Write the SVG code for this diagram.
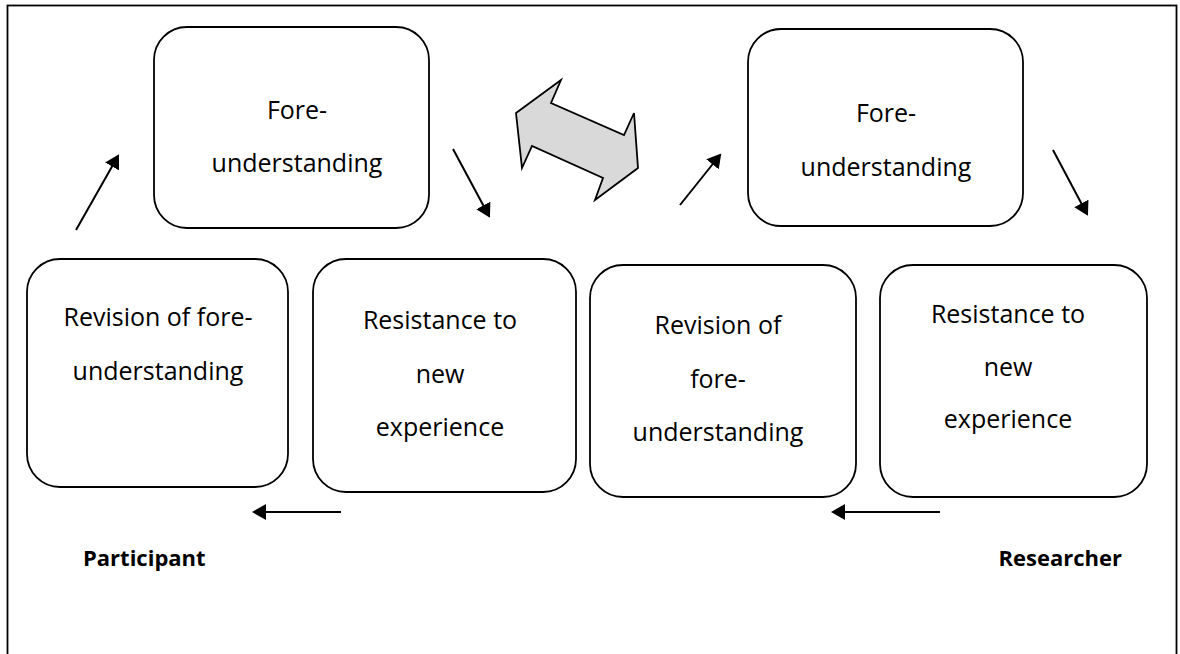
<svg xmlns="http://www.w3.org/2000/svg" width="1180" height="654" viewBox="0 0 1180 654">
<style>
.box{fill:#fff;stroke:#000;stroke-width:1.8}
.t{font-family:"Open Sans","Liberation Sans",sans-serif;font-size:25px;fill:#000;text-anchor:middle}
.b{font-family:"Open Sans","Liberation Sans",sans-serif;font-size:22px;font-weight:bold;fill:#000}
.c{stroke:#000;stroke-width:2;fill:none;marker-end:url(#ah)}
</style>
<defs>
<marker id="ah" markerWidth="8" markerHeight="8" refX="6" refY="4" orient="auto" markerUnits="strokeWidth">
<path d="M0,0 L7,4 L0,8 Z" fill="#000"/>
</marker>
</defs>
<rect x="0" y="0" width="1180" height="654" fill="#fff"/>
<rect x="7.5" y="5.5" width="1169" height="700" fill="none" stroke="#000" stroke-width="1.8"/>

<g id="fore-left">
<rect class="box" x="154" y="27" width="275" height="201" rx="33"/>
<text class="t" x="297" y="119">Fore-</text>
<text class="t" x="297" y="172">understanding</text>
</g>
<g id="fore-right">
<rect class="box" x="748" y="29" width="275" height="197" rx="33"/>
<text class="t" x="886" y="122">Fore-</text>
<text class="t" x="886" y="176">understanding</text>
</g>
<g id="revision-left">
<rect class="box" x="27" y="259" width="261" height="228" rx="33"/>
<text class="t" x="158" y="326">Revision of fore-</text>
<text class="t" x="158" y="380">understanding</text>
</g>
<g id="resistance-left">
<rect class="box" x="313" y="259" width="263" height="233" rx="33"/>
<text class="t" x="440" y="329">Resistance to</text>
<text class="t" x="440" y="383">new</text>
<text class="t" x="440" y="436">experience</text>
</g>
<g id="revision-right">
<rect class="box" x="590" y="265" width="266" height="232" rx="33"/>
<text class="t" x="718" y="334">Revision of</text>
<text class="t" x="718" y="388">fore-</text>
<text class="t" x="718" y="441">understanding</text>
</g>
<g id="resistance-right">
<rect class="box" x="880" y="265" width="267" height="232" rx="33"/>
<text class="t" x="1008" y="323">Resistance to</text>
<text class="t" x="1008" y="376">new</text>
<text class="t" x="1008" y="428">experience</text>
</g>
<g id="double-arrow">
<polygon points="516,113 561,80 551,103 624,135 634,113 638,168 595,200 603,178 532,146 522,168" fill="#d9d9d9" stroke="#000" stroke-width="1.8" stroke-linejoin="miter"/>
</g>
<g id="labels">
<text class="b" x="83" y="566">Participant</text>
<text class="b" x="1122" y="566" text-anchor="end">Researcher</text>
</g>
<g id="connectors">
<line class="c" x1="76" y1="230" x2="118" y2="156"/>
<line class="c" x1="453" y1="149" x2="489" y2="216"/>
<line class="c" x1="680" y1="205" x2="720" y2="155"/>
<line class="c" x1="1053" y1="150" x2="1087" y2="214"/>
<line class="c" x1="341" y1="512" x2="254" y2="512"/>
<line class="c" x1="940" y1="512" x2="833" y2="512"/>
</g>
</svg>
